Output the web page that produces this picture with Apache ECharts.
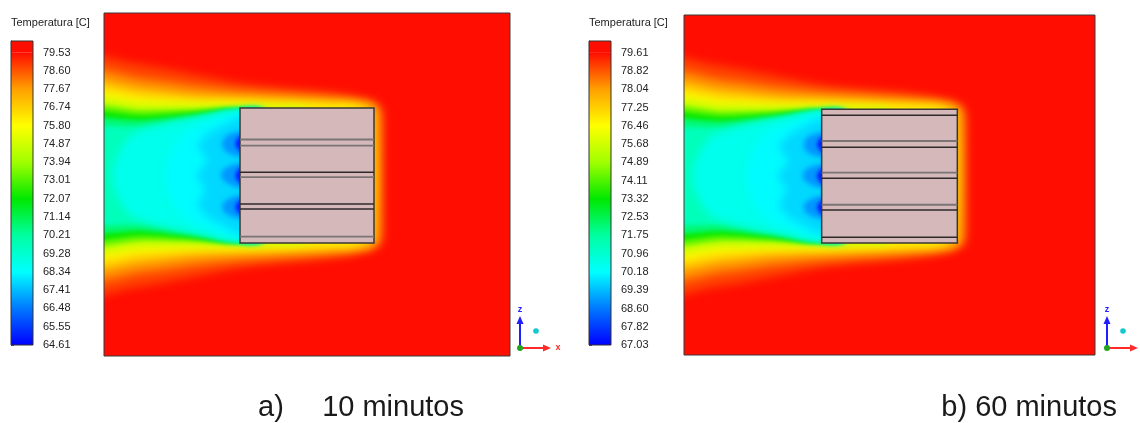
<!DOCTYPE html>
<html>
<head>
<meta charset="utf-8">
<title>Temperatura</title>
<script src="https://cdn.jsdelivr.net/npm/echarts@6/dist/echarts.min.js"></script>
<style>
  html, body { margin: 0; padding: 0; background: #ffffff; }
  #chart { width: 1140px; height: 423px; }
</style>
</head>
<body>
<div id="chart"></div>
<script>
// ---- colour scale labels (°C) of the two snapshots ----
const ticksA = [79.53, 78.60, 77.67, 76.74, 75.80, 74.87, 73.94, 73.01, 72.07, 71.14, 70.21, 69.28, 68.34, 67.41, 66.48, 65.55, 64.61];
const ticksB = [79.61, 78.82, 78.04, 77.25, 76.46, 75.68, 74.89, 74.11, 73.32, 72.53, 71.75, 70.96, 70.18, 69.39, 68.60, 67.82, 67.03];
// value at the very top edge of each colour bar (the bar runs a little past the top label)
const barTopA = 80.13;
const barTopB = 80.12;

// rainbow palette, evenly spread from the scale minimum to its maximum
const rainbow = ['#0000ff', '#0078ff', '#00ffff', '#00ffa0', '#00e800', '#a0ff00', '#ffff00', '#ffa000', '#ff0d00'];

// ---- section geometry (domain units: x to the right, y downward) ----
const domainW = 406;
const domainH = 343;
const blockA = [[136, 95, 270, 230]];
const blockB = [[136, 95, 270, 230]];
// plate edges inside the block (y positions)
const plateDarkA = [159.2, 191.0, 196.0];
const plateGreyA = [126.5, 132.6, 164.2, 223.7];
const plateDarkB = [101.2, 133.5, 164.7, 196.7, 224.3];
const plateGreyB = [127.1, 159.1, 191.4];

// isotherm outlines: each closed path bounds the air colder than its band
// (parts that run under the block or past the left edge are hidden)
const isothermPaths = [
  [[-30,45],[30,50],[70,57],[110,65],[136,70],[170,74],[205,77],[240,81],[258,85],[270,88],[279,96],[280,130],[280,195],[279,229],[270,237],[258,240],[240,244],[205,248],[170,251],[136,255],[110,260],[70,268],[30,275],[-30,280]],
  [[-30,60],[40,65],[90,72],[136,77],[180,80],[220,83],[252,86],[268,90],[275,97],[276,130],[276,195],[275,228],[268,235],[252,239],[220,242],[180,245],[136,248],[90,253],[40,260],[-30,265]],
  [[-30,71],[40,75],[90,81],[136,84],[180,86],[220,88],[250,90],[265,92],[272,98],[272,227],[265,233],[250,235],[220,237],[180,239],[136,241],[90,244],[40,250],[-30,254]],
  [[-30,80],[40,83],[90,87],[136,88],[180,89.5],[220,91],[250,92.5],[262,100],[262,225],[250,232.5],[220,234],[180,235.5],[136,237],[90,238],[40,242],[-30,245]],
  [[-30,90],[40,91],[90,92],[136,92.5],[180,93.8],[200,94.5],[205,100],[205,225],[200,230.5],[180,231.2],[136,232.5],[90,233],[40,234],[-30,235]],
  [[-30,97],[40,97],[90,96],[130,94.5],[160,100],[160,225],[130,231],[90,229],[40,228],[-30,228]],
  [[-30,103],[40,102],[90,99],[130,95.5],[160,100],[160,225],[130,230],[90,226],[40,223],[-30,222]],
  [[-30,111],[40,107],[90,102],[130,96.5],[160,100],[160,225],[130,229],[90,223],[40,218],[-30,214]],
  [[-30,120],[40,113],[90,105],[130,97.5],[160,100],[160,225],[130,228],[90,220],[40,212],[-30,205]],
  [[8,162],[14,140],[28,122],[60,112],[100,104],[130,98.5],[160,100],[160,225],[130,227],[100,221],[60,213],[28,203],[14,185]],
  [[62,162],[68,138],[84,118],[108,108],[132,101],[160,104],[160,221],[132,224],[108,217],[84,207],[68,187]],
  [[134,105],[120,112],[105,120],[94,133],[103,147],[93,162],[101,177],[94,192],[105,205],[120,213],[134,220],[160,220],[160,105]],
  [[160,118],[132,119],[121,124],[118,131],[121,138],[132,143],[160,144]],
  [[160,150],[132,151],[120,156],[117,162],[120,168],[132,174],[160,175]],
  [[160,181],[132,183],[121,188],[118,194],[121,200],[132,205],[160,206]],
  [[160,121],[139,121.5],[133.5,126],[131.5,130.5],[133.5,135],[139,139.5],[160,140]],
  [[160,153],[139,153.5],[133.5,158],[131.5,162.5],[133.5,167],[139,171.5],[160,172]],
  [[160,185],[139,185.5],[133.5,190],[131.5,194],[133.5,198],[139,202.5],[160,203]]
];
// band temperature inside each outline (°C)
const isoTempsA = [78.9, 78.0, 77.0, 76.0, 74.6, 73.3, 72.2, 70.7, 69.7, 68.7, 68.3, 67.8, 66.9, 66.9, 66.9, 64.9, 64.9, 64.9];
const isoTempsB = [79.08, 78.31, 77.47, 76.63, 75.46, 74.35, 73.43, 72.16, 71.32, 70.48, 70.14, 69.72, 68.96, 68.96, 68.96, 67.27, 67.27, 67.27];

const numFont = '"Liberation Sans Narrow", "Arial Narrow", "Liberation Sans", Arial, sans-serif';
const textFont = '"Liberation Sans", Arial, sans-serif';

// softness of each band's edge: wide bands upstream, tight ones by the block
function bandSoftness(i) {
  if (i < 5) return 8;
  if (i < 9) return 4;
  if (i < 12) return 8;
  if (i < 15) return 5;
  return 4;
}

// fine ruler ticks along the colour bar: five per labelled step
function rulerTicks(ticks, top) {
  const lo = ticks[ticks.length - 1];
  const step = (ticks[0] - lo) / (ticks.length - 1) / 5;
  const out = [];
  for (let v = lo; v <= top + 1e-9; v += step) out.push(+v.toFixed(4));
  return out;
}

function colourBar(params, api) {
  const lo = api.coord([0, api.value(0)]);
  const hi = api.coord([1, api.value(1)]);
  const top = api.coord([1, api.value(2)]);
  const x = lo[0];
  const w = hi[0] - lo[0];
  const stops = rainbow.map((c, i) => ({ offset: i / (rainbow.length - 1), color: c }));
  return {
    type: 'group',
    children: [
      { type: 'rect', shape: { x: x, y: top[1], width: w, height: hi[1] - top[1] }, style: { fill: rainbow[rainbow.length - 1] } },
      { type: 'rect', shape: { x: x, y: hi[1], width: w, height: lo[1] - hi[1] }, style: { fill: new echarts.graphic.LinearGradient(0, 1, 0, 0, stops) } },
      { type: 'rect', shape: { x: x, y: top[1], width: w, height: lo[1] - top[1] }, style: { fill: 'none', stroke: '#333', lineWidth: 1 } }
    ]
  };
}

// each band is painted as a soft-edged silhouette: the outline itself sits
// far off to the side and only its blurred shadow lands in the plot
const SHIFT = 3000;
function isotherm(params, api) {
  const i = api.value(0);
  const pts = isothermPaths[i].map(p => {
    const q = api.coord(p);
    return [q[0] - SHIFT, q[1]];
  });
  const c = api.visual('color');
  return {
    type: 'polygon',
    shape: { points: pts, smooth: 0.3 },
    style: { fill: c, shadowBlur: bandSoftness(i), shadowColor: c, shadowOffsetX: SHIFT, shadowOffsetY: 0 }
  };
}

function blockShape(params, api) {
  const a = api.coord([api.value(0), api.value(1)]);
  const b = api.coord([api.value(2), api.value(3)]);
  return {
    type: 'rect',
    shape: { x: a[0], y: a[1], width: b[0] - a[0], height: b[1] - a[1] },
    style: { fill: '#d5b9ba', stroke: '#3a3636', lineWidth: 1.5 }
  };
}

function plateEdge(block, colour, width) {
  return function (params, api) {
    const a = api.coord([block[0][0], api.value(0)]);
    const b = api.coord([block[0][2], api.value(0)]);
    return {
      type: 'line',
      shape: { x1: a[0], y1: a[1], x2: b[0], y2: b[1] },
      style: { stroke: colour, lineWidth: width }
    };
  };
}

function frame(params, api) {
  const a = api.coord([api.value(0), api.value(1)]);
  const b = api.coord([api.value(2), api.value(3)]);
  return {
    type: 'rect',
    shape: { x: a[0], y: a[1], width: b[0] - a[0], height: b[1] - a[1] },
    style: { fill: 'none', stroke: '#3a3a3a', lineWidth: 1 }
  };
}

function barAxis(gridIndex, ticks, top) {
  return {
    gridIndex: gridIndex,
    type: 'value',
    min: ticks[ticks.length - 1],
    max: top,
    position: 'right',
    axisLine: { show: true, lineStyle: { color: '#333', width: 1 } },
    axisTick: { show: true, customValues: rulerTicks(ticks, top), length: 3, lineStyle: { color: '#555', width: 1 } },
    axisLabel: {
      customValues: ticks,
      formatter: v => v.toFixed(2),
      margin: 10,
      fontSize: 11,
      fontFamily: numFont,
      color: '#222'
    },
    splitLine: { show: false }
  };
}

function triad(ox, oy, withX) {
  const blue = '#1f1fff', red = '#ff2a2a';
  const kids = [
    { type: 'line', shape: { x1: 0, y1: 0, x2: 0, y2: -26 }, style: { stroke: blue, lineWidth: 2 } },
    { type: 'polygon', shape: { points: [[0, -32], [-3.5, -24], [3.5, -24]] }, style: { fill: blue } },
    { type: 'text', x: 0, y: -38, style: { text: 'z', fill: blue, font: 'bold 9px ' + textFont, align: 'center', verticalAlign: 'middle' } },
    { type: 'line', shape: { x1: 0, y1: 0, x2: 25, y2: 0 }, style: { stroke: red, lineWidth: 2 } },
    { type: 'polygon', shape: { points: [[31, 0], [23, -3.5], [23, 3.5]] }, style: { fill: red } },
    { type: 'circle', shape: { cx: 0, cy: 0, r: 3 }, style: { fill: '#1fa51f' } },
    { type: 'circle', shape: { cx: 16, cy: -17, r: 2.8 }, style: { fill: '#12c9cf' } }
  ];
  if (withX) {
    kids.push({ type: 'text', x: 38, y: 0, style: { text: 'x', fill: red, font: 'bold 9px ' + textFont, align: 'center', verticalAlign: 'middle' } });
  }
  return { type: 'group', x: ox, y: oy, silent: true, children: kids };
}

const chart = echarts.init(document.getElementById('chart'), null, { renderer: 'canvas' });

chart.setOption({
  animation: false,
  backgroundColor: '#ffffff',
  grid: [
    { left: 11, top: 41, width: 22, height: 304 },
    { left: 104, top: 13, width: 406, height: 343, show: true, backgroundColor: rainbow[rainbow.length - 1], borderWidth: 0 },
    { left: 589, top: 41, width: 22, height: 304 },
    { left: 684, top: 15, width: 411, height: 340, show: true, backgroundColor: rainbow[rainbow.length - 1], borderWidth: 0 }
  ],
  xAxis: [
    { gridIndex: 0, type: 'value', min: 0, max: 1, show: false },
    { gridIndex: 1, type: 'value', min: 0, max: domainW, show: false },
    { gridIndex: 2, type: 'value', min: 0, max: 1, show: false },
    { gridIndex: 3, type: 'value', min: 0, max: domainW, show: false }
  ],
  yAxis: [
    barAxis(0, ticksA, barTopA),
    { gridIndex: 1, type: 'value', min: 0, max: domainH, inverse: true, show: false },
    barAxis(2, ticksB, barTopB),
    { gridIndex: 3, type: 'value', min: 0, max: domainH, inverse: true, show: false }
  ],
  visualMap: [
    { type: 'continuous', show: false, seriesIndex: 1, dimension: 1, min: ticksA[ticksA.length - 1], max: ticksA[0], inRange: { color: rainbow } },
    { type: 'continuous', show: false, seriesIndex: 7, dimension: 1, min: ticksB[ticksB.length - 1], max: ticksB[0], inRange: { color: rainbow } }
  ],
  series: [
    // 0: colour bar a
    { type: 'custom', xAxisIndex: 0, yAxisIndex: 0, silent: true, renderItem: colourBar,
      data: [[ticksA[ticksA.length - 1], ticksA[0], barTopA]] },
    // 1: temperature field a
    { type: 'custom', xAxisIndex: 1, yAxisIndex: 1, silent: true, clip: true, renderItem: isotherm,
      data: isothermPaths.map((p, i) => [i, isoTempsA[i]]) },
    // 2-5: block, plates, outline a
    { type: 'custom', xAxisIndex: 1, yAxisIndex: 1, silent: true, renderItem: blockShape, data: blockA },
    { type: 'custom', xAxisIndex: 1, yAxisIndex: 1, silent: true, renderItem: plateEdge(blockA, '#7a7474', 1.8), data: plateGreyA.map(v => [v]) },
    { type: 'custom', xAxisIndex: 1, yAxisIndex: 1, silent: true, renderItem: plateEdge(blockA, '#2e2a2a', 1.5), data: plateDarkA.map(v => [v]) },
    { type: 'custom', xAxisIndex: 1, yAxisIndex: 1, silent: true, renderItem: frame, data: [[0, 0, domainW, domainH]] },
    // 6: colour bar b
    { type: 'custom', xAxisIndex: 2, yAxisIndex: 2, silent: true, renderItem: colourBar,
      data: [[ticksB[ticksB.length - 1], ticksB[0], barTopB]] },
    // 7: temperature field b
    { type: 'custom', xAxisIndex: 3, yAxisIndex: 3, silent: true, clip: true, renderItem: isotherm,
      data: isothermPaths.map((p, i) => [i, isoTempsB[i]]) },
    // 8-11: block, plates, outline b
    { type: 'custom', xAxisIndex: 3, yAxisIndex: 3, silent: true, renderItem: blockShape, data: blockB },
    { type: 'custom', xAxisIndex: 3, yAxisIndex: 3, silent: true, renderItem: plateEdge(blockB, '#7a7474', 1.8), data: plateGreyB.map(v => [v]) },
    { type: 'custom', xAxisIndex: 3, yAxisIndex: 3, silent: true, renderItem: plateEdge(blockB, '#2e2a2a', 1.5), data: plateDarkB.map(v => [v]) },
    { type: 'custom', xAxisIndex: 3, yAxisIndex: 3, silent: true, renderItem: frame, data: [[0, 0, domainW, domainH]] }
  ],
  graphic: [
    { type: 'text', x: 11, y: 23, silent: true, style: { text: 'Temperatura [C]', font: '11px ' + textFont, fill: '#222', verticalAlign: 'middle' } },
    { type: 'text', x: 589, y: 23, silent: true, style: { text: 'Temperatura [C]', font: '11px ' + textFont, fill: '#222', verticalAlign: 'middle' } },
    triad(520, 348, true),
    triad(1107, 348, false),
    { type: 'text', x: 258, y: 408, silent: true, style: { text: 'a)', font: '29px ' + textFont, fill: '#1a1a1a', verticalAlign: 'middle' } },
    { type: 'text', x: 464, y: 408, silent: true, style: { text: '10 minutos', font: '29px ' + textFont, fill: '#1a1a1a', align: 'right', verticalAlign: 'middle' } },
    { type: 'text', x: 1117, y: 408, silent: true, style: { text: 'b) 60 minutos', font: '29px ' + textFont, fill: '#1a1a1a', align: 'right', verticalAlign: 'middle' } }
  ]
});
</script>
</body>
</html>
